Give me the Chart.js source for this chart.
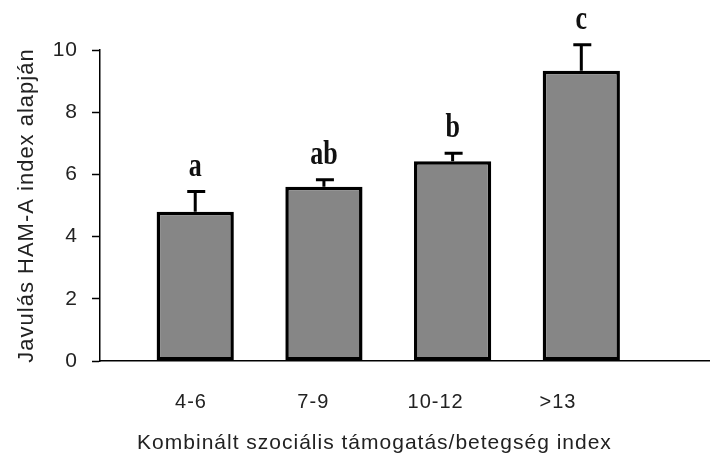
<!DOCTYPE html>
<html>
<head>
<meta charset="utf-8">
<script src="https://cdn.jsdelivr.net/npm/chart.js@4/dist/chart.umd.min.js"></script>
<style>
html,body{margin:0;padding:0;background:#fff;}
#wrap{width:710px;height:455px;position:relative;}
</style>
</head>
<body>
<div id="wrap"><canvas id="c" width="710" height="455"></canvas></div>
<script>
const categories = ['4-6', '7-9', '10-12', '>13'];
const means = [4.8, 5.6, 6.42, 9.33];
const errorTops = [5.45, 5.83, 6.68, 10.17];
const letters = ['a', 'ab', 'b', 'c'];
const yTicks = [0, 2, 4, 6, 8, 10];
const xTitle = 'Kombinált szociális támogatás/betegség index';
const yTitle = 'Javulás HAM-A index alapján';

const sans = '"Liberation Sans", Arial, sans-serif';

const spacingPlugin = {
  id: 'spacing',
  beforeLayout(chart) { chart.ctx.letterSpacing = '1px'; },
  beforeDraw(chart) { chart.ctx.letterSpacing = '1px'; }
};

const errorPlugin = {
  id: 'errs',
  afterDatasetsDraw(chart) {
    const ctx = chart.ctx;
    const xs = chart.scales.x, ys = chart.scales.y, xl = chart.scales.xl;
    ctx.save();
    ctx.letterSpacing = '0px';
    ctx.strokeStyle = '#000';
    ctx.fillStyle = '#111';
    ctx.lineWidth = 3;
    ctx.font = 'bold 26px "Liberation Serif", "Times New Roman", serif';
    ctx.textAlign = 'center';
    ctx.textBaseline = 'alphabetic';
    categories.forEach((c, i) => {
      const x = xs.getPixelForValue(i);
      const y0 = ys.getPixelForValue(means[i]);
      const y1 = ys.getPixelForValue(errorTops[i]);
      ctx.beginPath();
      ctx.moveTo(x, y0);
      ctx.lineTo(x, y1);
      ctx.moveTo(x - 8, y1);
      ctx.lineTo(x + 10, y1);
      ctx.stroke();
      ctx.save();
      ctx.translate(x, y1 - 16);
      ctx.scale(1, 1.3);
      ctx.fillText(letters[i], 0, 0);
      ctx.restore();
    });
    // x axis title, centred under the category labels
    ctx.letterSpacing = '1px';
    ctx.font = '21px ' + sans;
    ctx.fillStyle = '#222';
    ctx.textBaseline = 'middle';
    ctx.fillText(xTitle, xl.getPixelForValue((categories.length - 1) / 2), chart.chartArea.bottom + 82);
    ctx.restore();
  }
};

const catTicks = s => { s.ticks = categories.map((c, i) => ({value: i})); };

new Chart(document.getElementById('c'), {
  type: 'bar',
  data: {
    datasets: [{
      data: means.map((v, i) => ({x: i, y: v})),
      backgroundColor: '#868686',
      borderColor: '#000',
      borderWidth: 3.5,
      borderSkipped: false,
      barPercentage: 0.6,
      categoryPercentage: 1.0
    }]
  },
  options: {
    responsive: false,
    animation: false,
    layout: {padding: {top: 50, right: 0, left: 14, bottom: 0}},
    plugins: {legend: {display: false}, tooltip: {enabled: false}},
    scales: {
      x: {
        type: 'linear',
        position: 'bottom',
        weight: 0,
        min: -0.74,
        max: 4.0,
        offset: false,
        afterBuildTicks: catTicks,
        afterFit: s => { s.height = 0; },
        ticks: {display: false},
        grid: {display: false, drawTicks: false, offset: false},
        border: {display: true, color: '#000', width: 1.5}
      },
      xl: {
        type: 'linear',
        position: 'bottom',
        weight: 1,
        min: -0.744,
        max: 4.243,
        offset: false,
        afterBuildTicks: catTicks,
        afterFit: s => { s.height = 94; },
        ticks: {
          callback: v => categories[v],
          color: '#222',
          font: {family: sans, size: 20},
          padding: 29,
          maxRotation: 0,
          autoSkip: false
        },
        grid: {display: false, drawTicks: false, offset: false},
        border: {display: false}
      },
      y: {
        min: 0,
        max: 10,
        afterBuildTicks: s => { s.ticks = yTicks.map(v => ({value: v})); },
        afterFit: s => { s.width = 86; },
        ticks: {color: '#222', font: {family: sans, size: 21}, padding: 14},
        grid: {display: true, drawOnChartArea: false, drawTicks: true, tickLength: 8, tickColor: '#000', tickWidth: 1.5},
        border: {display: true, color: '#000', width: 1.5},
        title: {
          display: true,
          text: yTitle,
          color: '#222',
          font: {family: sans, size: 22},
          padding: {top: 0, bottom: 4}
        }
      }
    }
  },
  plugins: [spacingPlugin, errorPlugin]
});
</script>
</body>
</html>
